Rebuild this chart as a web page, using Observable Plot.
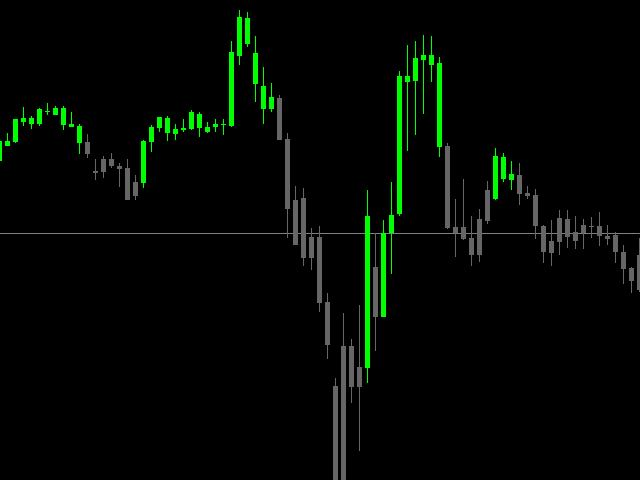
<!DOCTYPE html>
<html>
<head>
<meta charset="utf-8">
<script src="https://cdn.jsdelivr.net/npm/d3@7"></script>
<script src="https://cdn.jsdelivr.net/npm/@observablehq/plot@0.6"></script>
<style>
  html, body { margin: 0; padding: 0; background: #000; overflow: hidden; }
  #chart svg { display: block; }
</style>
</head>
<body>
<div id="chart"></div>
<script>
// Price data (arbitrary price units), one entry per bar
const opens  = [319,334,338,358,356,356,368,365,355,353,337,338,309,321,321,314,312,298,297,338,
                352,347,346,350,351,352,348,353,355,354,424,436,396,371,371,382,341,280,282,243,
                243,178,94,134,134,113,112,213,163,247,266,398,399,420,415,333,334,253,253,242,
                261,290,281,301,300,305,287,285,254,239,262,261,248,255,254,254,244,245,228,212,225];
const highs  = [339,347,361,373,364,372,377,374,374,368,356,346,321,324,327,317,321,305,340,355,
                363,364,356,361,370,368,358,361,361,439,470,468,444,413,397,385,347,294,292,252,
                254,187,102,167,141,175,290,247,260,298,409,435,439,445,444,423,337,281,301,264,
                271,299,332,327,319,317,294,291,255,260,270,270,264,261,263,268,255,248,235,213,242];
const lows   = [319,334,337,354,351,354,365,365,350,353,326,322,300,302,312,293,280,280,292,328,
                348,339,340,348,350,343,347,348,345,353,415,433,378,356,368,340,242,235,214,210,
                168,121,-30,-30,77,29,97,129,163,206,264,329,345,366,398,323,251,223,240,214,
                218,256,280,298,290,275,281,241,217,214,225,232,231,231,242,234,235,217,196,187,188];
const closes = [339,339,361,362,362,371,369,372,372,356,354,326,307,308,314,311,280,284,339,353,
                363,362,351,352,368,366,353,356,356,428,463,462,427,394,383,340,271,235,222,222,
                177,135,-20,-20,93,93,264,163,247,265,404,404,422,425,425,417,252,247,241,225,
                225,259,324,323,306,286,284,254,228,227,238,243,239,247,253,244,241,228,211,199,190];
const bidLevel = 247;

const candles = opens.map((o, i) => ({i, open: o, high: highs[i], low: lows[i], close: closes[i]}));
const isBull = d => d.close >= d.open;
const isBear = d => d.close < d.open;

const bull = "#00ff00";
const bear = "#666666";

const chart = Plot.plot({
  width: 640,
  height: 480,
  margin: 0,
  x: {domain: [0, 80], range: [-1, 639], axis: null},
  y: {domain: [0, 480], range: [480, 0], axis: null},
  style: {background: "#000", overflow: "hidden"},
  marks: [
    Plot.ruleY([bidLevel], {stroke: "#7b7f8a", strokeWidth: 1}),
    Plot.ruleX(candles, {filter: isBear, x: "i", y1: "low", y2: "high", stroke: bear, strokeWidth: 1}),
    Plot.ruleX(candles, {filter: isBear, x: "i", y1: "open", y2: "close", stroke: bear, strokeWidth: 5}),
    Plot.ruleX(candles, {filter: isBull, x: "i", y1: "low", y2: "high", stroke: bull, strokeWidth: 1}),
    Plot.ruleX(candles, {filter: isBull, x: "i", y1: "open", y2: "close", stroke: bull, strokeWidth: 5})
  ]
});
document.getElementById("chart").appendChild(chart);
</script>
</body>
</html>
